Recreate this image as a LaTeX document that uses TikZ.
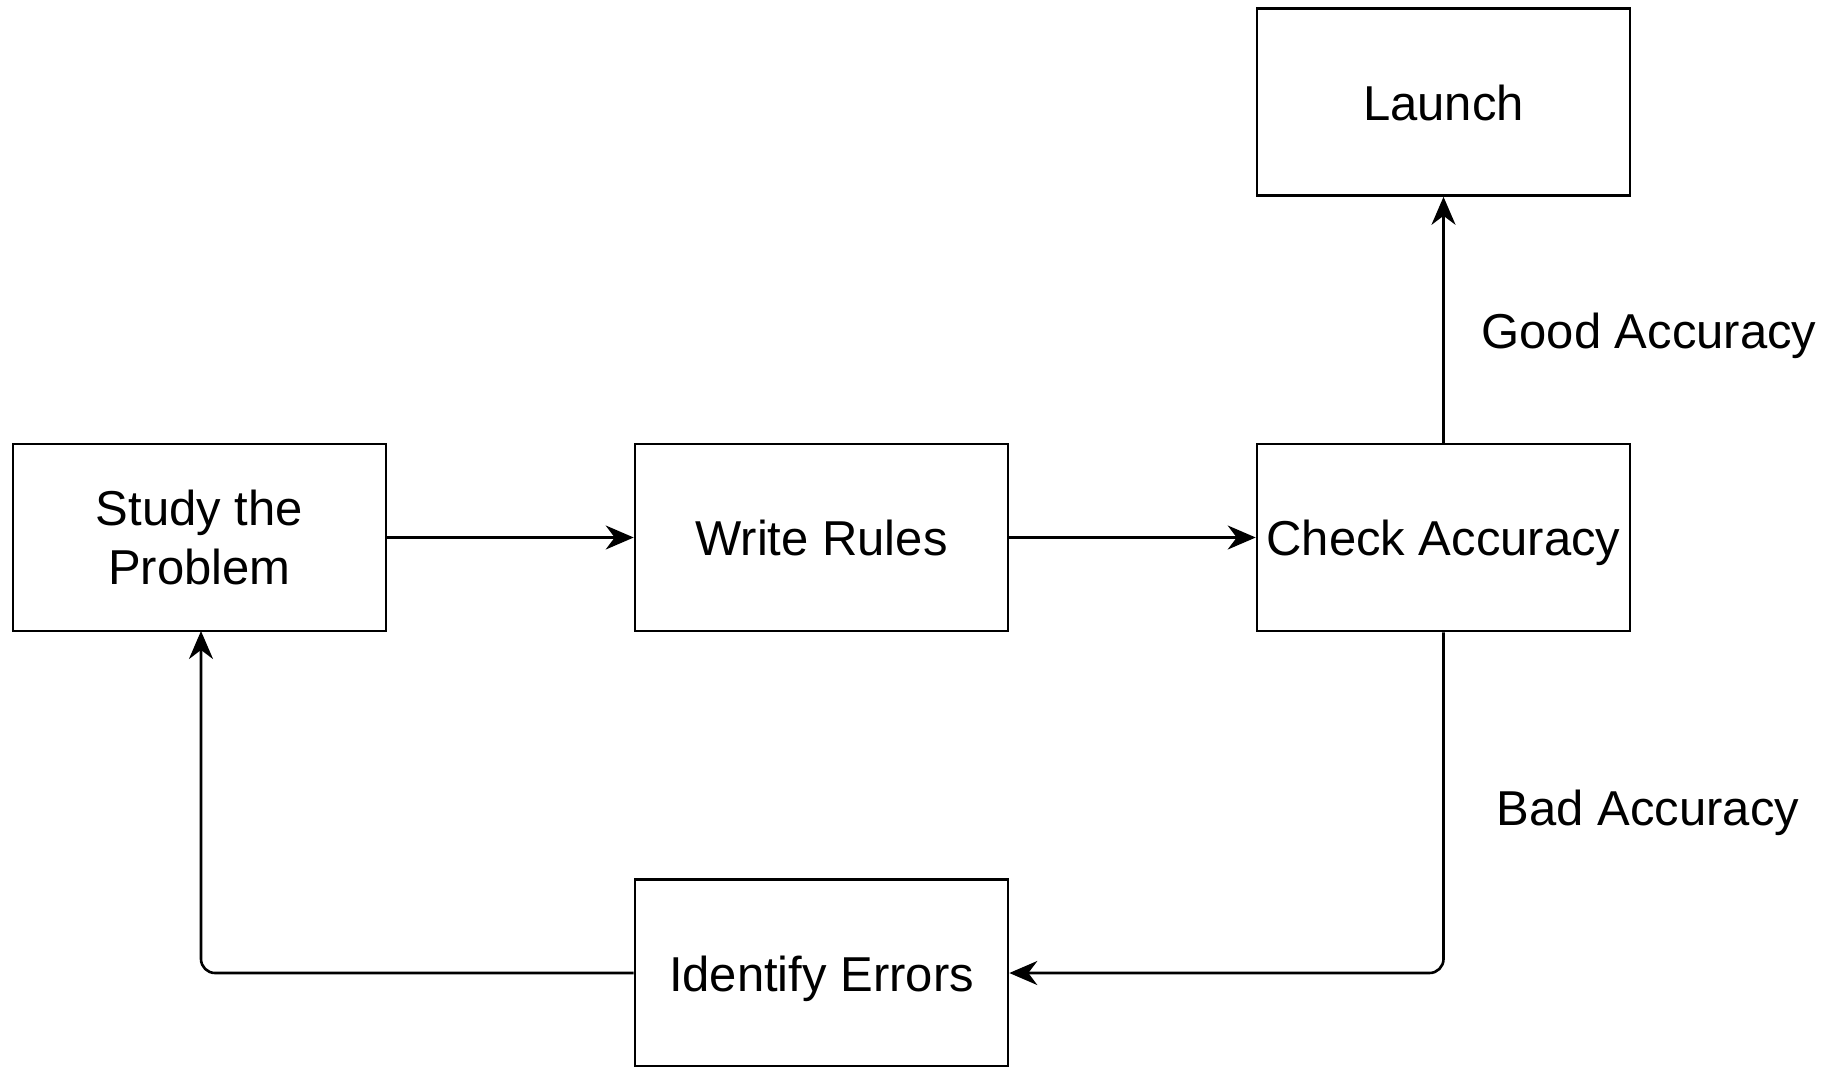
\documentclass[tikz,border=0pt]{standalone}
\usepackage{fontspec}
\setmainfont{Liberation Sans}
\usetikzlibrary{arrows.meta}
\begin{document}
\begin{tikzpicture}[x=1pt,y=-1pt,
  stepbox/.style={draw=black, line width=2.6pt, minimum width=373pt, minimum height=187pt,
    inner sep=0pt, align=center, font=\fontsize{49}{59}\selectfont},
  oneline/.style={text height=36pt, text depth=0pt},
  flow/.style={line width=2.6pt, rounded corners=14pt,
    -{Stealth[length=28pt, width=24pt, inset=9pt]}},
  lbl/.style={font=\fontsize{49}{59}\selectfont, inner sep=0pt, text height=36pt, text depth=0pt}]
\useasboundingbox (0,0) rectangle (1833,1066);
\fill[white] (0,0) rectangle (1833,1066);

\node[stepbox, oneline] (launch) at (1443.5,102) {Launch};
\node[stepbox] (study)  at (199.5,537.5) {Study the\\Problem};
\node[stepbox, oneline] (write)  at (821.5,537.5) {Write Rules};
\node[stepbox, oneline] (check)  at (1443.5,537.5) {Check Accuracy};
\node[stepbox, oneline] (ident)  at (821.5,973) {Identify Errors};

\node[lbl] (good) at (1649,330) {Good Accuracy};
\node[lbl] (bad)  at (1648,807) {Bad Accuracy};

\coordinate (studyin) at (201,631);
\draw[flow] (study.east) -- (write.west);
\draw[flow] (write.east) -- (check.west);
\draw[flow] (check.north) -- (launch.south);
\draw[flow] (check.south) |- (ident.east);
\draw[flow] (ident.west) -| (studyin);
\end{tikzpicture}
\end{document}
